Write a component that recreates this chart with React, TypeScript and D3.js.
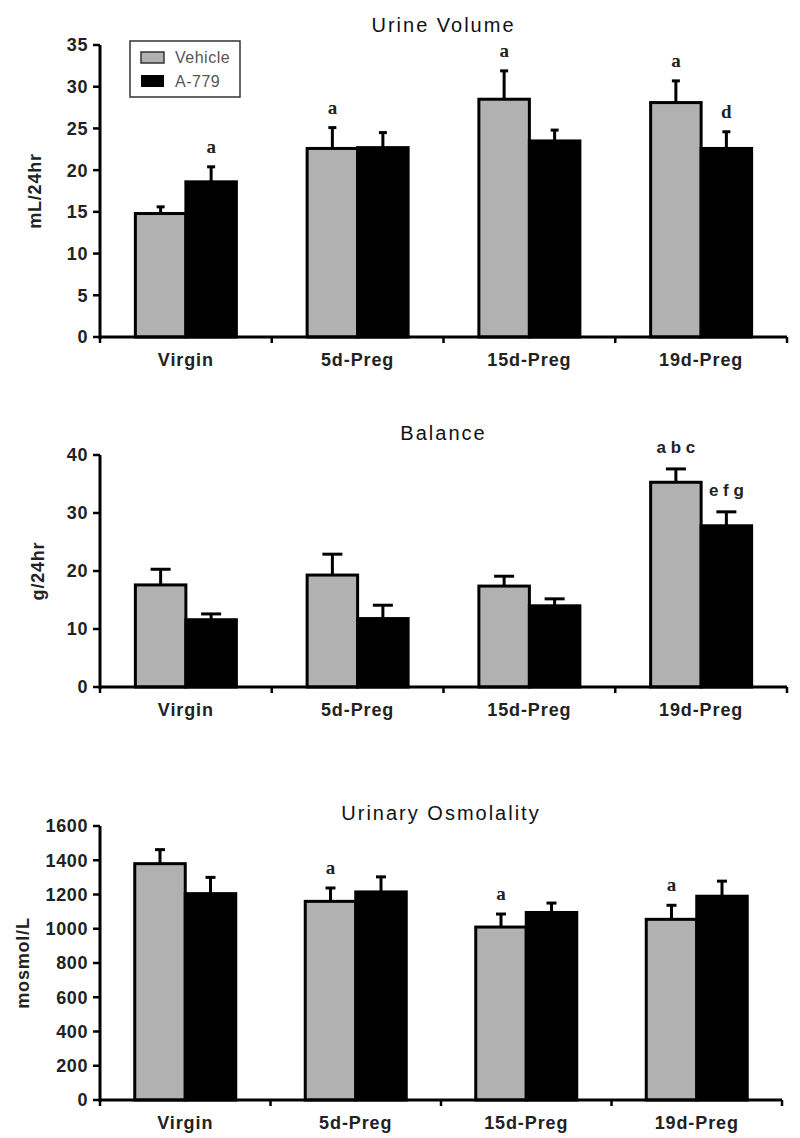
import React from "react";
import * as d3 from "d3";

const categories = ["Virgin", "5d-Preg", "15d-Preg", "19d-Preg"];
const seriesNames = ["Vehicle", "A-779"];

// Urine Volume (mL/24hr)
const volumeVehicle = [14.8, 22.6, 28.5, 28.1];
const volumeVehicleSem = [0.8, 2.5, 3.4, 2.6];
const volumeA779 = [18.6, 22.7, 23.5, 22.6];
const volumeA779Sem = [1.8, 1.8, 1.3, 2.0];
const volumeVehicleLetters = ["", "a", "a", "a"];
const volumeA779Letters = ["a", "", "", "d"];
const volumeTicks = [0, 5, 10, 15, 20, 25, 30, 35];

// Balance (g/24hr)
const balanceVehicle = [17.6, 19.3, 17.4, 35.3];
const balanceVehicleSem = [2.7, 3.6, 1.7, 2.3];
const balanceA779 = [11.6, 11.8, 14.0, 27.8];
const balanceA779Sem = [1.0, 2.3, 1.2, 2.4];
const balanceVehicleLetters = ["", "", "", "a b c"];
const balanceA779Letters = ["", "", "", "e f g"];
const balanceTicks = [0, 10, 20, 30, 40];

// Urinary Osmolality (mosmol/L)
const osmVehicle = [1380, 1160, 1010, 1055];
const osmVehicleSem = [82, 78, 76, 82];
const osmA779 = [1205, 1215, 1095, 1190];
const osmA779Sem = [95, 88, 55, 88];
const osmVehicleLetters = ["", "a", "a", "a"];
const osmA779Letters = ["", "", "", ""];
const osmTicks = [0, 200, 400, 600, 800, 1000, 1200, 1400, 1600];

const GRAY = "#b1b1b1";
const FONT = "'Liberation Sans', Arial, Helvetica, sans-serif";
const SERIF = "'Liberation Serif', 'Times New Roman', serif";

type PanelProps = {
  title: string;
  titleY: number;
  yLabel: string;
  yLabelX: number;
  x0: number;
  x1: number;
  yTop: number;
  yBottom: number;
  max: number;
  ticks: number[];
  veh: number[];
  vehSem: number[];
  a: number[];
  aSem: number[];
  vehLetters: string[];
  aLetters: string[];
  capW: number;
  letterFont: string;
  letterSize: number;
  letterGap: number;
  legend?: boolean;
};

function Panel(p: PanelProps) {
  const x = d3.scaleBand<string>().domain(categories).range([p.x0, p.x1]).padding(0);
  const y = d3.scaleLinear().domain([0, p.max]).range([p.yBottom, p.yTop]);
  const barW = 50.5;
  const y0 = y(0);
  const bounds = [p.x0, ...categories.map((c) => (x(c) as number) + x.bandwidth())];
  const midX = (p.x0 + p.x1) / 2;
  const yMid = (p.yTop + p.yBottom) / 2;

  const bars: React.ReactNode[] = [];
  categories.forEach((c, i) => {
    const cx = (x(c) as number) + x.bandwidth() / 2;
    const groups = [
      { v: p.veh[i], s: p.vehSem[i], l: p.vehLetters[i], fill: GRAY, bx: cx - barW },
      { v: p.a[i], s: p.aSem[i], l: p.aLetters[i], fill: "#000", bx: cx },
    ];
    groups.forEach((g, j) => {
      const top = y(g.v);
      const errTop = y(g.v + g.s);
      const ex = g.bx + barW / 2;
      bars.push(
        <g key={`${c}-${j}`}>
          <line x1={ex} x2={ex} y1={top} y2={errTop} stroke="#000" strokeWidth={3} />
          <line x1={ex - p.capW / 2} x2={ex + p.capW / 2} y1={errTop} y2={errTop} stroke="#000" strokeWidth={3} />
          <rect x={g.bx} y={top} width={barW} height={y0 - top} fill={g.fill} stroke="#000" strokeWidth={3} />
          {g.l && (
            <text
              x={ex}
              y={errTop - p.letterGap}
              textAnchor="middle"
              fontFamily={p.letterFont}
              fontWeight="bold"
              fontSize={p.letterSize}
              fill="#222"
            >
              {g.l}
            </text>
          )}
        </g>
      );
    });
  });

  return (
    <g>
      <text x={midX} y={p.titleY} textAnchor="middle" fontFamily={FONT} fontSize={20} letterSpacing={2} fill="#111">
        {p.title}
      </text>
      {bars}
      {/* y axis */}
      <line x1={p.x0} x2={p.x0} y1={y0 + 2} y2={p.yTop} stroke="#000" strokeWidth={3} />
      {p.ticks.map((t) => (
        <g key={t}>
          <line x1={p.x0 - 7} x2={p.x0} y1={y(t)} y2={y(t)} stroke="#000" strokeWidth={2.5} />
          <text
            x={p.x0 - 12}
            y={y(t)}
            dy="0.36em"
            textAnchor="end"
            fontFamily={FONT}
            fontWeight="bold"
            fontSize={18}
            letterSpacing={0.6}
            fill="#222"
          >
            {t}
          </text>
        </g>
      ))}
      {/* x axis */}
      <line x1={p.x0} x2={p.x1} y1={y0} y2={y0} stroke="#000" strokeWidth={3} />
      {bounds.map((b, i) => (
        <line key={i} x1={b} x2={b} y1={y0} y2={y0 + 6} stroke="#000" strokeWidth={2.5} />
      ))}
      {categories.map((c) => (
        <text
          key={c}
          x={(x(c) as number) + x.bandwidth() / 2}
          y={y0 + 29}
          textAnchor="middle"
          fontFamily={FONT}
          fontWeight="bold"
          fontSize={18}
          letterSpacing={0.9}
          fill="#222"
        >
          {c}
        </text>
      ))}
      <text
        transform={`translate(${p.yLabelX},${yMid}) rotate(-90)`}
        textAnchor="middle"
        dy="0.36em"
        fontFamily={FONT}
        fontWeight="bold"
        fontSize={18}
        letterSpacing={0.8}
        fill="#222"
      >
        {p.yLabel}
      </text>
      {p.legend && (
        <g>
          <rect x={130} y={41} width={110} height={56} fill="#fff" stroke="#333" strokeWidth={1.5} />
          <rect x={141} y={52} width={23} height={11} fill={GRAY} stroke="#333" strokeWidth={1.5} />
          <rect x={141} y={75} width={23} height={12} fill="#000" />
          <text x={175} y={63} fontFamily={FONT} fontSize={16} letterSpacing={0.5} fill="#555">
            {seriesNames[0]}
          </text>
          <text x={175} y={87} fontFamily={FONT} fontSize={16} letterSpacing={0.5} fill="#555">
            {seriesNames[1]}
          </text>
        </g>
      )}
    </g>
  );
}

export default function App() {
  return (
    <svg
      width={800}
      height={1138}
      style={{ position: "absolute", left: 0, top: 0, background: "#fff" }}
    >
      <rect width={800} height={1138} fill="#fff" />
      <Panel
        title="Urine Volume"
        titleY={32}
        yLabel="mL/24hr"
        yLabelX={35}
        x0={100}
        x1={787}
        yTop={45}
        yBottom={337}
        max={35}
        ticks={volumeTicks}
        veh={volumeVehicle}
        vehSem={volumeVehicleSem}
        a={volumeA779}
        aSem={volumeA779Sem}
        vehLetters={volumeVehicleLetters}
        aLetters={volumeA779Letters}
        capW={8}
        letterFont={SERIF}
        letterSize={19}
        letterGap={14}
        legend
      />
      <Panel
        title="Balance"
        titleY={440}
        yLabel="g/24hr"
        yLabelX={38}
        x0={100}
        x1={787}
        yTop={455}
        yBottom={687}
        max={40}
        ticks={balanceTicks}
        veh={balanceVehicle}
        vehSem={balanceVehicleSem}
        a={balanceA779}
        aSem={balanceA779Sem}
        vehLetters={balanceVehicleLetters}
        aLetters={balanceA779Letters}
        capW={20}
        letterFont={FONT}
        letterSize={17}
        letterGap={16}
      />
      <Panel
        title="Urinary Osmolality"
        titleY={820}
        yLabel="mosmol/L"
        yLabelX={23}
        x0={100}
        x1={782}
        yTop={826}
        yBottom={1100}
        max={1600}
        ticks={osmTicks}
        veh={osmVehicle}
        vehSem={osmVehicleSem}
        a={osmA779}
        aSem={osmA779Sem}
        vehLetters={osmVehicleLetters}
        aLetters={osmA779Letters}
        capW={10}
        letterFont={SERIF}
        letterSize={19}
        letterGap={14}
      />
    </svg>
  );
}
